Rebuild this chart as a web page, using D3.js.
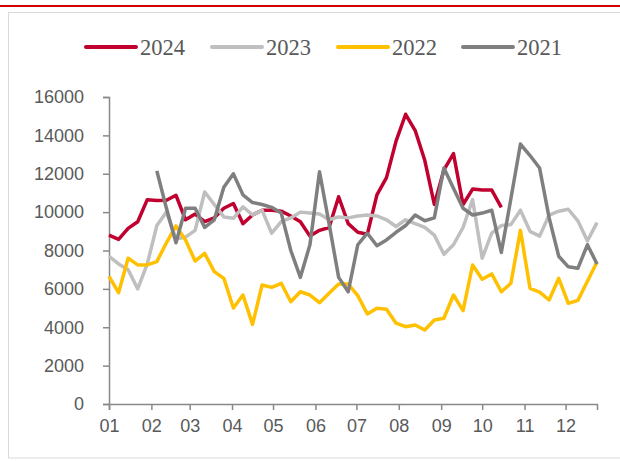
<!DOCTYPE html>
<html>
<head>
<meta charset="utf-8">
<script src="https://cdn.jsdelivr.net/npm/d3@7/dist/d3.min.js"></script>
<style>
  html, body { margin: 0; padding: 0; background: #fff; }
  svg { display: block; }
</style>
</head>
<body>
<svg id="chart" width="620" height="461"></svg>
<script>
// Weekly values per year; each series starts on its own first week (month-day)
const years = ["2024", "2023", "2022", "2021"];
const colors = ["#c0002f", "#bfbfbf", "#ffc000", "#7f7f7f"];
const startDays = ["01-01", "01-01", "01-01", "02-05"];

const values2024 = [8800, 8580, 9150, 9500, 10650, 10600, 10620, 10880, 9600, 9900,
  9500, 9700, 10200, 10450, 9400, 9850, 10100, 10100, 10050, 9800,
  9500, 8750, 9050, 9200, 10800, 9400, 8950, 8850, 10900, 11800,
  13700, 15100, 14250, 12700, 10400, 12200, 13050, 10400, 11200, 11150,
  11150, 10250];
const values2023 = [7700, 7300, 7000, 6000, 7300, 9300, 10000, 8600, 8700, 9050,
  11050, 10400, 9750, 9680, 10280, 9850, 10100, 8900, 9500, 9700,
  10000, 9950, 9900, 9600, 9750, 9700, 9800, 9850, 9800, 9600,
  9250, 9600, 9400, 9200, 8800, 7800, 8300, 9200, 10650, 7600,
  8900, 9300, 9350, 10100, 9000, 8750, 9850, 10050, 10150, 9550,
  8500, 9450];
const values2022 = [6650, 5800, 7600, 7250, 7250, 7420, 8400, 9280, 8550, 7450,
  7850, 6900, 6550, 5000, 5680, 4150, 6200, 6080, 6290, 5330,
  5850, 5680, 5280, 5770, 6250, 6250, 5650, 4690, 4990, 4940,
  4210, 4030, 4120, 3860, 4380, 4470, 5680, 4870, 7245, 6500,
  6780, 5850, 6290, 9050, 6030, 5830, 5420, 6550, 5245, 5400,
  6400, 7400];
const values2021 = [12150, 10200, 8400, 10200, 10200, 9200, 9600, 11300, 12000, 10900,
  10500, 10400, 10250, 9950, 8000, 6600, 8300, 12100, 9400, 6600,
  5850, 8300, 8900, 8250, 8550, 8950, 9300, 9850, 9550, 9700,
  12300, 11250, 10200, 9850, 9950, 10100, 7900, 10700, 13550, 12950,
  12300, 9700, 7700, 7150, 7070, 8300, 7300];

const yTicks = [0, 2000, 4000, 6000, 8000, 10000, 12000, 14000, 16000];
const monthLabels = ["01", "02", "03", "04", "05", "06", "07", "08", "09", "10", "11", "12"];

const seriesValues = [values2024, values2023, values2022, values2021];

// Dates are placed on a common non-leap calendar year
const parseMD = d3.timeParse("%Y-%m-%d");
const baseYear = "2001";
const series = years.map((y, k) => {
  const start = parseMD(baseYear + "-" + startDays[k]);
  return {
    name: y,
    color: colors[k],
    points: seriesValues[k].map((v, i) => ({ date: d3.timeDay.offset(start, i * 7), value: v }))
  };
});

const svg = d3.select("#chart");
const font = "'Liberation Sans', Arial, sans-serif";
const textColor = "#595959";
const axisColor = "#898989";

// page decoration: red rule and light frame
svg.append("line").attr("x1", 0).attr("x2", 620).attr("y1", 6).attr("y2", 6)
  .attr("stroke", "#d00000").attr("stroke-width", 2);
svg.append("rect").attr("x", 8.5).attr("y", 12.5).attr("width", 630).attr("height", 445.5)
  .attr("fill", "none").attr("stroke", "#d9d9d9").attr("stroke-width", 1);

const x = d3.scaleTime()
  .domain([parseMD(baseYear + "-01-01"), parseMD(baseYear + "-12-24")])
  .range([109, 597]);
const y = d3.scaleLinear().domain([0, 16000]).range([404, 97]);

// y axis
const yAxis = svg.append("g").attr("transform", "translate(109,0)")
  .call(d3.axisLeft(y).tickValues(yTicks).tickSize(6).tickPadding(19).tickFormat(d3.format("d")));
yAxis.select(".domain").attr("stroke", axisColor).attr("stroke-width", 1.5);
yAxis.selectAll(".tick line").attr("stroke", axisColor).attr("stroke-width", 1.5);
yAxis.selectAll(".tick text").attr("fill", textColor).attr("font-family", font).attr("font-size", 18);

// x axis: one tick at the start of each month
const monthStarts = monthLabels.map(m => parseMD(baseYear + "-" + m + "-01"));
const xAxis = svg.append("g").attr("transform", "translate(0,404)")
  .call(d3.axisBottom(x).tickValues(monthStarts).tickSize(6).tickPadding(9)
    .tickFormat((d, i) => monthLabels[i]));
xAxis.select(".domain").attr("stroke", axisColor).attr("stroke-width", 1.5);
xAxis.selectAll(".tick line").attr("stroke", axisColor).attr("stroke-width", 1.5);
xAxis.selectAll(".tick text").attr("fill", textColor).attr("font-family", font).attr("font-size", 18);

// series lines (2021 drawn last, on top)
const line = d3.line().x(d => x(d.date)).y(d => y(d.value));
svg.append("g").selectAll("path").data(series).join("path")
  .attr("d", d => line(d.points))
  .attr("fill", "none")
  .attr("stroke", d => d.color)
  .attr("stroke-width", 3.5)
  .attr("stroke-linejoin", "round");

// legend
const legendX = [86, 212, 338, 463];
const legend = svg.append("g").selectAll("g").data(series).join("g")
  .attr("transform", (d, i) => `translate(${legendX[i]},47)`);
legend.append("line").attr("x1", 0).attr("x2", 50).attr("y1", 0).attr("y2", 0)
  .attr("stroke", d => d.color).attr("stroke-width", 4).attr("stroke-linecap", "round");
legend.append("text").attr("x", 54).attr("y", 7.5)
  .attr("font-family", "'Liberation Serif', 'Times New Roman', serif")
  .attr("font-size", 22.5).attr("fill", textColor)
  .text(d => d.name);
</script>
</body>
</html>
